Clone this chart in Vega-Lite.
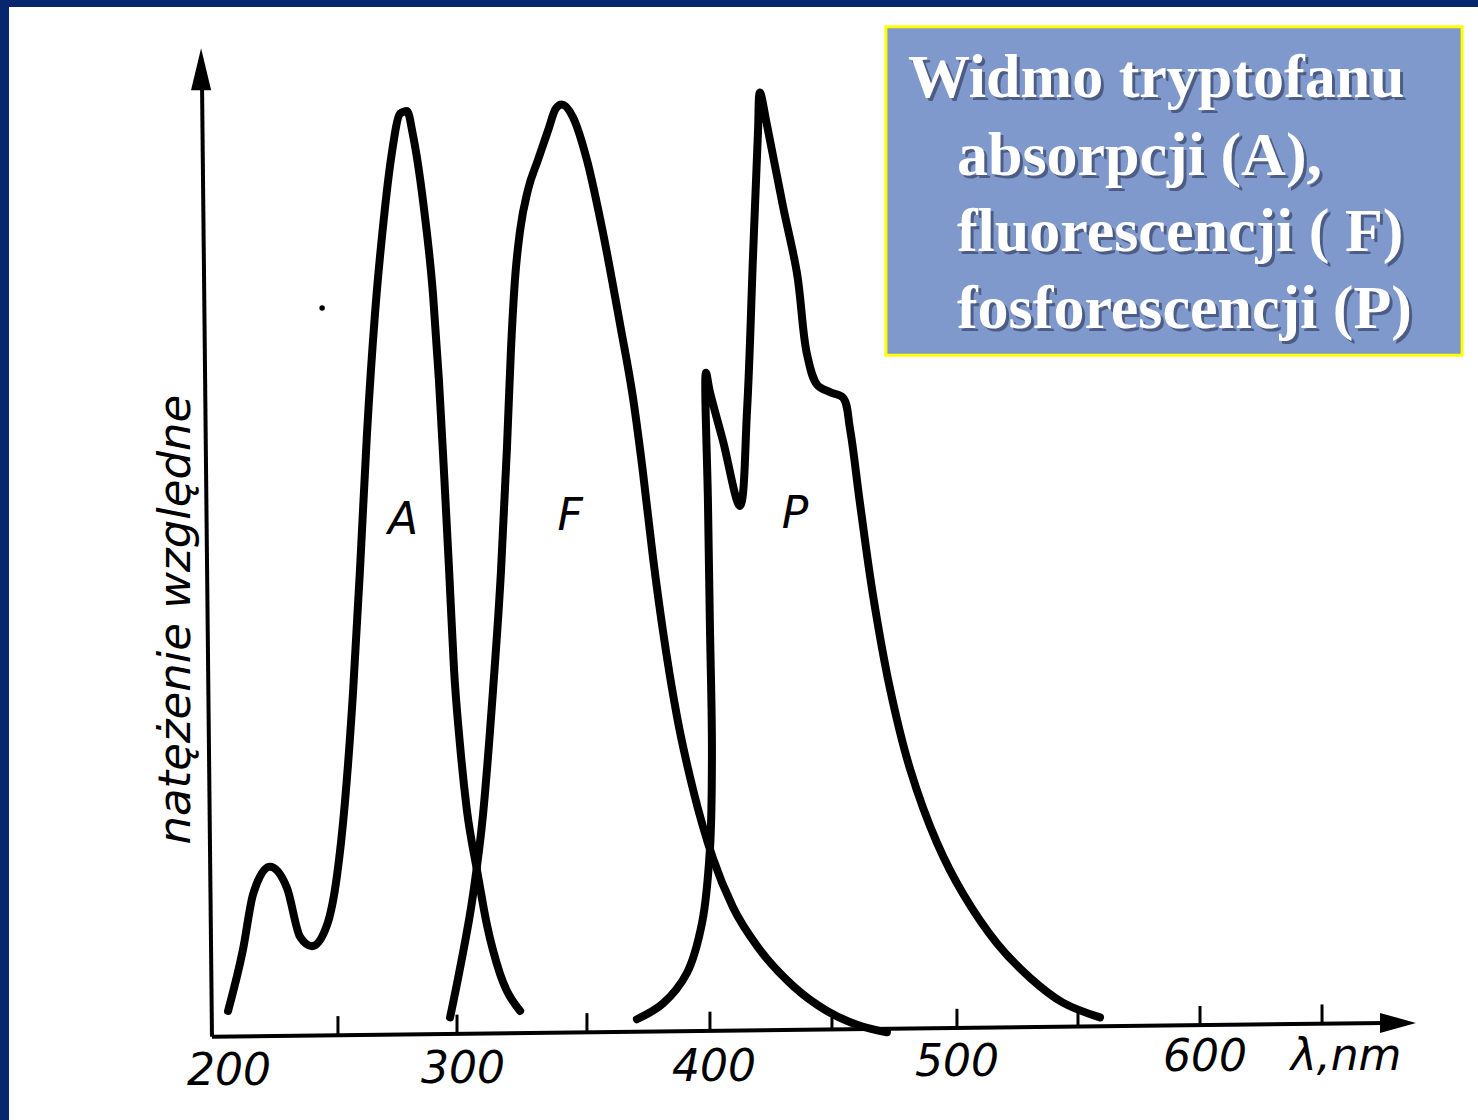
{
  "$schema": "https://vega.github.io/schema/vega-lite/v6.json",
  "width": 1478,
  "height": 1120,
  "autosize": {"type": "fit", "contains": "padding"},
  "padding": {"left": 9, "top": 7, "right": 0, "bottom": 0},
  "background": "#06266e",
  "config": {"view": {"stroke": null, "fill": "#ffffff"}},
  "datasets": {
    "curves": [
      {"s": "A", "i": 0, "nm": 207.3, "v": 2.6},
      {"s": "A", "i": 1, "nm": 213.3, "v": 9.2},
      {"s": "A", "i": 2, "nm": 217.4, "v": 15.2},
      {"s": "A", "i": 3, "nm": 224.2, "v": 18.2},
      {"s": "A", "i": 4, "nm": 231.1, "v": 15.9},
      {"s": "A", "i": 5, "nm": 236.4, "v": 10.6},
      {"s": "A", "i": 6, "nm": 241.2, "v": 9.6},
      {"s": "A", "i": 7, "nm": 247.3, "v": 11.9},
      {"s": "A", "i": 8, "nm": 251.3, "v": 17.2},
      {"s": "A", "i": 9, "nm": 254.5, "v": 25.1},
      {"s": "A", "i": 10, "nm": 257.8, "v": 37.1},
      {"s": "A", "i": 11, "nm": 260.6, "v": 50.3},
      {"s": "A", "i": 12, "nm": 263.4, "v": 64.9},
      {"s": "A", "i": 13, "nm": 266.7, "v": 78.1},
      {"s": "A", "i": 14, "nm": 269.9, "v": 87.4},
      {"s": "A", "i": 15, "nm": 273.5, "v": 95.4},
      {"s": "A", "i": 16, "nm": 276.8, "v": 99.6},
      {"s": "A", "i": 17, "nm": 279.6, "v": 99.9},
      {"s": "A", "i": 18, "nm": 282.0, "v": 97.3},
      {"s": "A", "i": 19, "nm": 286.1, "v": 90.1},
      {"s": "A", "i": 20, "nm": 290.1, "v": 80.1},
      {"s": "A", "i": 21, "nm": 292.5, "v": 70.8},
      {"s": "A", "i": 22, "nm": 294.5, "v": 61.1},
      {"s": "A", "i": 23, "nm": 296.6, "v": 50.3},
      {"s": "A", "i": 24, "nm": 298.6, "v": 39.5},
      {"s": "A", "i": 25, "nm": 301.0, "v": 31.4},
      {"s": "A", "i": 26, "nm": 303.8, "v": 24.3},
      {"s": "A", "i": 27, "nm": 307.9, "v": 17.8},
      {"s": "A", "i": 28, "nm": 311.9, "v": 11.9},
      {"s": "A", "i": 29, "nm": 317.2, "v": 6.6},
      {"s": "A", "i": 30, "nm": 325.3, "v": 2.6},
      {"s": "F", "i": 0, "nm": 297.0, "v": 1.9},
      {"s": "F", "i": 1, "nm": 301.0, "v": 7.2},
      {"s": "F", "i": 2, "nm": 306.3, "v": 15.2},
      {"s": "F", "i": 3, "nm": 310.3, "v": 23.8},
      {"s": "F", "i": 4, "nm": 314.3, "v": 37.1},
      {"s": "F", "i": 5, "nm": 317.6, "v": 50.3},
      {"s": "F", "i": 6, "nm": 320.0, "v": 63.6},
      {"s": "F", "i": 7, "nm": 321.6, "v": 74.1},
      {"s": "F", "i": 8, "nm": 323.2, "v": 81.6},
      {"s": "F", "i": 9, "nm": 325.3, "v": 87.0},
      {"s": "F", "i": 10, "nm": 328.5, "v": 91.4},
      {"s": "F", "i": 11, "nm": 332.5, "v": 94.6},
      {"s": "F", "i": 12, "nm": 336.6, "v": 97.8},
      {"s": "F", "i": 13, "nm": 339.8, "v": 100.2},
      {"s": "F", "i": 14, "nm": 342.2, "v": 100.6},
      {"s": "F", "i": 15, "nm": 346.7, "v": 99.2},
      {"s": "F", "i": 16, "nm": 352.3, "v": 94.6},
      {"s": "F", "i": 17, "nm": 358.8, "v": 86.7},
      {"s": "F", "i": 18, "nm": 365.7, "v": 76.8},
      {"s": "F", "i": 19, "nm": 370.9, "v": 68.9},
      {"s": "F", "i": 20, "nm": 374.9, "v": 60.9},
      {"s": "F", "i": 21, "nm": 379.0, "v": 51.6},
      {"s": "F", "i": 22, "nm": 383.0, "v": 43.7},
      {"s": "F", "i": 23, "nm": 388.7, "v": 34.4},
      {"s": "F", "i": 24, "nm": 395.2, "v": 26.5},
      {"s": "F", "i": 25, "nm": 403.2, "v": 19.1},
      {"s": "F", "i": 26, "nm": 411.3, "v": 13.8},
      {"s": "F", "i": 27, "nm": 422.2, "v": 9.2},
      {"s": "F", "i": 28, "nm": 435.6, "v": 5.3},
      {"s": "F", "i": 29, "nm": 449.3, "v": 2.6},
      {"s": "F", "i": 30, "nm": 462.6, "v": 1.0},
      {"s": "F", "i": 31, "nm": 473.5, "v": 0.3},
      {"s": "P", "i": 0, "nm": 372.5, "v": 1.7},
      {"s": "P", "i": 1, "nm": 383.0, "v": 3.4},
      {"s": "P", "i": 2, "nm": 392.7, "v": 6.7},
      {"s": "P", "i": 3, "nm": 398.8, "v": 12.1},
      {"s": "P", "i": 4, "nm": 402.0, "v": 20.1},
      {"s": "P", "i": 5, "nm": 402.8, "v": 30.8},
      {"s": "P", "i": 6, "nm": 402.0, "v": 44.1},
      {"s": "P", "i": 7, "nm": 401.2, "v": 57.5},
      {"s": "P", "i": 8, "nm": 400.4, "v": 71.6},
      {"s": "P", "i": 9, "nm": 402.0, "v": 69.5},
      {"s": "P", "i": 10, "nm": 407.3, "v": 64.2},
      {"s": "P", "i": 11, "nm": 414.1, "v": 57.2},
      {"s": "P", "i": 12, "nm": 417.0, "v": 67.6},
      {"s": "P", "i": 13, "nm": 419.4, "v": 84.2},
      {"s": "P", "i": 14, "nm": 421.4, "v": 97.6},
      {"s": "P", "i": 15, "nm": 422.2, "v": 101.9},
      {"s": "P", "i": 16, "nm": 425.1, "v": 98.3},
      {"s": "P", "i": 17, "nm": 431.5, "v": 89.6},
      {"s": "P", "i": 18, "nm": 437.2, "v": 82.3},
      {"s": "P", "i": 19, "nm": 441.2, "v": 73.6},
      {"s": "P", "i": 20, "nm": 445.3, "v": 70.3},
      {"s": "P", "i": 21, "nm": 450.5, "v": 69.5},
      {"s": "P", "i": 22, "nm": 455.8, "v": 68.9},
      {"s": "P", "i": 23, "nm": 458.6, "v": 65.5},
      {"s": "P", "i": 24, "nm": 462.6, "v": 57.5},
      {"s": "P", "i": 25, "nm": 467.9, "v": 47.5},
      {"s": "P", "i": 26, "nm": 474.7, "v": 37.5},
      {"s": "P", "i": 27, "nm": 482.8, "v": 28.8},
      {"s": "P", "i": 28, "nm": 493.7, "v": 20.8},
      {"s": "P", "i": 29, "nm": 504.2, "v": 15.3},
      {"s": "P", "i": 30, "nm": 518.0, "v": 9.9},
      {"s": "P", "i": 31, "nm": 531.3, "v": 6.2},
      {"s": "P", "i": 32, "nm": 544.6, "v": 3.5},
      {"s": "P", "i": 33, "nm": 559.6, "v": 1.9}
    ],
    "axes": [
      {"nm": 196.8, "v": 102.2, "nm2": 200.8, "v2": -0.2},
      {"nm": 200.8, "v": -0.2, "nm2": 674.7, "v2": 1.3}
    ],
    "ticks": [
      {"nm": 251.7, "v": -0.06, "v2": 2.04},
      {"nm": 299.8, "v": 0.10, "v2": 2.2},
      {"nm": 352.3, "v": 0.26, "v2": 2.36},
      {"nm": 402.0, "v": 0.42, "v2": 2.52},
      {"nm": 451.3, "v": 0.57, "v2": 2.67},
      {"nm": 501.8, "v": 0.73, "v2": 2.83},
      {"nm": 550.7, "v": 0.89, "v2": 2.99},
      {"nm": 600.0, "v": 1.04, "v2": 3.14},
      {"nm": 649.3, "v": 1.20, "v2": 3.30}
    ],
    "arrows": [
      {"nm": 196.4, "v": 104.4, "dir": "up"},
      {"nm": 680.0, "v": 1.3, "dir": "right"}
    ],
    "labels": [
      {"t": "200", "nm": 207.7, "v": -4.0},
      {"t": "300", "nm": 302.2, "v": -3.8},
      {"t": "400", "nm": 403.6, "v": -3.57},
      {"t": "500", "nm": 501.8, "v": -3.03},
      {"t": "600", "nm": 602.0, "v": -2.49},
      {"t": "λ,nm", "nm": 659.0, "v": -2.38},
      {"t": "A", "nm": 278.0, "v": 55.6},
      {"t": "F", "nm": 345.5, "v": 56.0},
      {"t": "P", "nm": 436.4, "v": 56.2}
    ],
    "ylabel": [
      {"t": "natężenie względne", "nm": 191.9, "v": 44.9}
    ],
    "dot": [
      {"nm": 245.3, "v": 78.6}
    ],
    "box": [
      {"nm": 473.1, "v": 109.0, "nm2": 705.9, "v2": 73.5}
    ],
    "boxtext": [
      {"t": "Widmo tryptofanu", "nm": 482.0, "v": 101.4},
      {"t": "absorpcji (A),", "nm": 501.8, "v": 93.0},
      {"t": "fluorescencji ( F)", "nm": 501.8, "v": 84.8},
      {"t": "fosforescencji (P)", "nm": 501.8, "v": 76.4}
    ]
  },
  "encoding": {
    "x": {"field": "nm", "type": "quantitative", "scale": {"domain": [118.79, 712.32], "nice": false, "zero": false}, "axis": null},
    "y": {"field": "v", "type": "quantitative", "scale": {"domain": [-9.19, 111.14], "nice": false, "zero": false}, "axis": null}
  },
  "layer": [
    {
      "data": {"name": "box"},
      "mark": {"type": "rect", "fill": "#7f99cc", "stroke": "#ffff00", "strokeWidth": 3},
      "encoding": {
        "x2": {"field": "nm2"},
        "y2": {"field": "v2"}
      }
    },
    {
      "data": {"name": "axes"},
      "mark": {"type": "rule", "color": "#000000", "strokeWidth": 4},
      "encoding": {
        "x2": {"field": "nm2"},
        "y2": {"field": "v2"}
      }
    },
    {
      "data": {"name": "ticks"},
      "mark": {"type": "rule", "color": "#000000", "strokeWidth": 3},
      "encoding": {
        "y2": {"field": "v2"}
      }
    },
    {
      "data": {"name": "arrows"},
      "mark": {"type": "point", "filled": true, "color": "#000000", "opacity": 1, "size": 1764},
      "encoding": {
        "shape": {"field": "dir", "type": "nominal", "legend": null,
          "scale": {"domain": ["up", "right"], "range": ["M0,-1L0.48,1L-0.48,1Z", "M0.857,0L-0.857,0.48L-0.857,-0.48Z"]}}
      }
    },
    {
      "data": {"name": "curves"},
      "transform": [{"filter": "datum.s !== 'P'"}],
      "mark": {"type": "line", "color": "#000000", "strokeWidth": 8, "interpolate": "monotone", "strokeCap": "round", "strokeJoin": "round"},
      "encoding": {
        "detail": {"field": "s", "type": "nominal"},
        "order": {"field": "i", "type": "quantitative"}
      }
    },
    {
      "data": {"name": "curves"},
      "transform": [{"filter": "datum.s === 'P'"}],
      "mark": {"type": "line", "color": "#000000", "strokeWidth": 8, "interpolate": "catmull-rom", "strokeCap": "round", "strokeJoin": "round"},
      "encoding": {
        "detail": {"field": "s", "type": "nominal"},
        "order": {"field": "i", "type": "quantitative"}
      }
    },
    {
      "data": {"name": "dot"},
      "mark": {"type": "point", "filled": true, "color": "#000000", "opacity": 1, "size": 30}
    },
    {
      "data": {"name": "labels"},
      "mark": {"type": "text", "font": "DejaVu Sans", "fontStyle": "italic", "fontSize": 44, "color": "#000000", "align": "center", "baseline": "middle"},
      "encoding": {"text": {"field": "t"}}
    },
    {
      "data": {"name": "ylabel"},
      "mark": {"type": "text", "font": "DejaVu Sans", "fontStyle": "italic", "fontSize": 45, "color": "#000000", "align": "center", "baseline": "alphabetic", "angle": 270},
      "encoding": {"text": {"field": "t"}}
    },
    {
      "data": {"name": "boxtext"},
      "mark": {"type": "text", "font": "Liberation Serif", "fontWeight": "bold", "fontSize": 62, "color": "#2b3555", "opacity": 0.6, "align": "left", "baseline": "alphabetic", "dx": 3, "dy": 3},
      "encoding": {"text": {"field": "t"}}
    },
    {
      "data": {"name": "boxtext"},
      "mark": {"type": "text", "font": "Liberation Serif", "fontWeight": "bold", "fontSize": 62, "color": "#ffffff", "align": "left", "baseline": "alphabetic"},
      "encoding": {"text": {"field": "t"}}
    }
  ]
}
